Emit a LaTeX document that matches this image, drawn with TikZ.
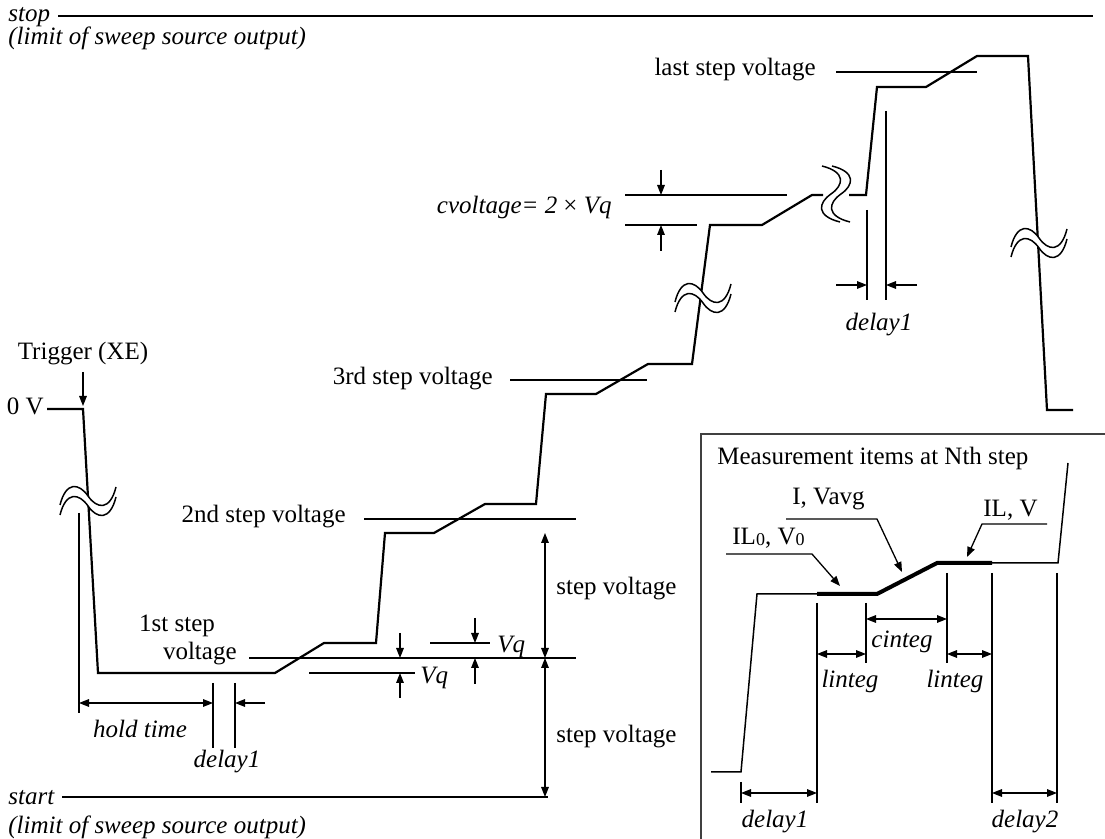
\documentclass[tikz,border=0pt]{standalone}
\usepackage{fontspec}
\setmainfont{Liberation Serif}
\usetikzlibrary{arrows.meta}
\tikzset{
  txt/.style={font=\fontsize{12.5}{14}\selectfont, inner sep=0pt},
  itx/.style={font=\fontsize{12.5}{14}\selectfont\itshape, inner sep=0pt},
  wave/.style={line width=1.1pt, line join=miter},
  thickwave/.style={line width=2pt},
  refl/.style={line width=0.65pt},
  tip/.tip={Triangle[length=5pt,width=3.8pt]},
  arr/.style={line width=0.65pt,-tip},
  darr/.style={line width=0.65pt,tip-tip},
  brkc/.style={line width=0.75pt},
  brk/.pic={
    \fill[white] (-28,4) .. controls (-22,-20) and (-9,-18) .. (0,-5) .. controls (9,8) and (22,10) .. (28,-14) -- (28,-4) .. controls (22,20) and (9,18) .. (0,5) .. controls (-9,-8) and (-22,-10) .. (-28,14) -- cycle;
    \draw[brkc] (-28,4) .. controls (-22,-20) and (-9,-18) .. (0,-5) .. controls (9,8) and (22,10) .. (28,-14);
    \draw[brkc] (-28,14) .. controls (-22,-10) and (-9,-8) .. (0,5) .. controls (9,18) and (22,20) .. (28,-4);
  }
}
\begin{document}
\begin{tikzpicture}[x=0.5pt,y=-0.5pt]
\useasboundingbox (0,0) rectangle (1105,839);

% limits
\node[itx, anchor=base west] (stop) at (8,22) {stop};
\node[itx, anchor=base west] (stoplim) at (8,45) {(limit of sweep source output)};
\coordinate (stopend) at (1093,16);
\draw[wave] (58,16) -- (stopend);
\node[itx, anchor=base west] (start) at (8,805) {start};
\node[itx, anchor=base west] (startlim) at (8,834) {(limit of sweep source output)};
\coordinate (startend) at (548,797);
\draw[wave] (62,797) -- (startend);

% trigger
\node[txt, anchor=base] (trig) at (83,360) {Trigger (XE)};
\coordinate (trigtip) at (83,406);
\draw[arr] (83,372) -- (trigtip);
\node[txt, anchor=base east] (zero) at (44,415) {0 V};

% main waveform
\draw[wave] (47,409) -- (83,409) -- (98,673) -- (275,673) -- (324,643) -- (376,643)
  -- (385,533) -- (434,533) -- (485,504) -- (536,504) -- (546,394) -- (596,394) -- (648,364)
  -- (692,364) -- (710,225) -- (762,225) -- (812,195) -- (823,195);
\draw[wave] (849,195) -- (866,195) -- (877,87) -- (926,87) -- (977,56) -- (1028,56) -- (1047,410) -- (1073,410);

% break symbols
\pic at (88,501) {brk};
\pic at (703,298) {brk};
\pic[rotate=90] at (836,194) {brk};
\pic at (1039,243) {brk};

% step voltage reference lines
\node[txt, anchor=base] (s1a) at (177,632) {1st step};
\node[txt, anchor=base east] (s1b) at (237,660) {voltage};
\draw[refl] (249,658) -- (576,658);
\node[txt, anchor=base east] (s2) at (346,523) {2nd step voltage};
\draw[refl] (364,519) -- (576,519);
\node[txt, anchor=base east] (s3) at (493,385) {3rd step voltage};
\draw[refl] (510,380) -- (647,380);
\node[txt, anchor=base east] (sl) at (816,76) {last step voltage};
\draw[refl] (836,72) -- (977,72);

% step voltage dimension
\coordinate (sv1) at (545,533);
\coordinate (sv2) at (545,658);
\coordinate (sv3) at (545,797);
\draw[darr] (sv1) -- (sv2);
\draw[darr] (sv2) -- (sv3);
\node[txt, anchor=base west] (svA) at (556,595) {step voltage};
\node[txt, anchor=base west] (svB) at (556,743) {step voltage};

% Vq lower
\draw[refl] (309,673) -- (415,673);
\draw[arr] (400,633) -- (400,658);
\draw[arr] (400,698) -- (400,673);
\node[itx, anchor=base west] (vq1) at (420,684) {Vq};
% Vq upper
\draw[refl] (430,643) -- (490,643);
\draw[arr] (475,618) -- (475,643);
\draw[arr] (475,684) -- (475,658);
\node[itx, anchor=base west] (vq2) at (497,653) {Vq};

% cvoltage
\node[itx, anchor=base east] (cv) at (612,214) {cvoltage= 2 {\upshape\char"00D7} Vq};
\draw[refl] (625,195) -- (787,195);
\draw[refl] (625,225) -- (697,225);
\draw[arr] (661,170) -- (661,195);
\draw[arr] (661,251) -- (661,225);

% top delay1
\draw[refl] (867,210) -- (867,300);
\draw[refl] (886,111) -- (886,300);
\draw[arr] (836,285) -- (867,285);
\draw[arr] (917,285) -- (886,285);
\node[itx, anchor=base] (d1top) at (879,331) {delay1};

% hold time / delay1 bottom left
\draw[refl] (79,513) -- (79,713);
\draw[refl] (213,683) -- (213,748);
\draw[refl] (235,683) -- (235,748);
\draw[darr] (79,703) -- (213,703);
\draw[arr] (265,703) -- (235,703);
\node[itx, anchor=base] (hold) at (140,738) {hold time};
\node[itx, anchor=base] (d1bot) at (227,768) {delay1};

% inset
\draw[line width=0.6pt, black!75] (1105,434) -- (701,434) -- (701,839);
\node[txt, anchor=base west] (title) at (717,465) {Measurement items at Nth step};
\draw[line width=0.75pt] (711,772) -- (741,772) -- (757,594) -- (817,594);
\draw[line width=0.75pt] (992,563) -- (1058,563) -- (1068,463);
\draw[thickwave] (817,594) -- (877,594) -- (937,563) -- (992,563);

\draw[refl] (817,603) -- (817,803);
\draw[refl] (866,603) -- (866,663);
\draw[refl] (947,573) -- (947,663);
\draw[refl] (992,573) -- (992,803);
\draw[refl] (1057,573) -- (1057,803);
\draw[refl] (741,782) -- (741,803);

\draw[darr] (866,619) -- (947,619);
\node[itx, anchor=base] (cint) at (902,648) {cinteg};
\draw[darr] (817,654) -- (866,654);
\node[itx, anchor=base] (lint1) at (850,688) {linteg};
\draw[darr] (947,654) -- (992,654);
\node[itx, anchor=base] (lint2) at (955,688) {linteg};
\draw[darr] (741,793) -- (817,793);
\node[itx, anchor=base] (dl1) at (775,828) {delay1};
\draw[darr] (992,793) -- (1057,793);
\node[itx, anchor=base] (dl2) at (1025,828) {delay2};

\node[txt, anchor=base west] (il0) at (732,545) {IL{\fontsize{9}{10}\selectfont\raisebox{-0.5pt}{0}}, V{\fontsize{9}{10}\selectfont\raisebox{-0.5pt}{0}}};
\draw[arr] (726,554) -- (812,554) -- (840,586);
\node[txt, anchor=base west] (iv) at (792,505) {I, Vavg};
\draw[arr] (786,519) -- (877,519) -- (902,572);
\node[txt, anchor=base west] (ilv) at (983,517) {IL, V};
\draw[arr] (1047,524) -- (982,524) -- (967,557);
\end{tikzpicture}
\end{document}
